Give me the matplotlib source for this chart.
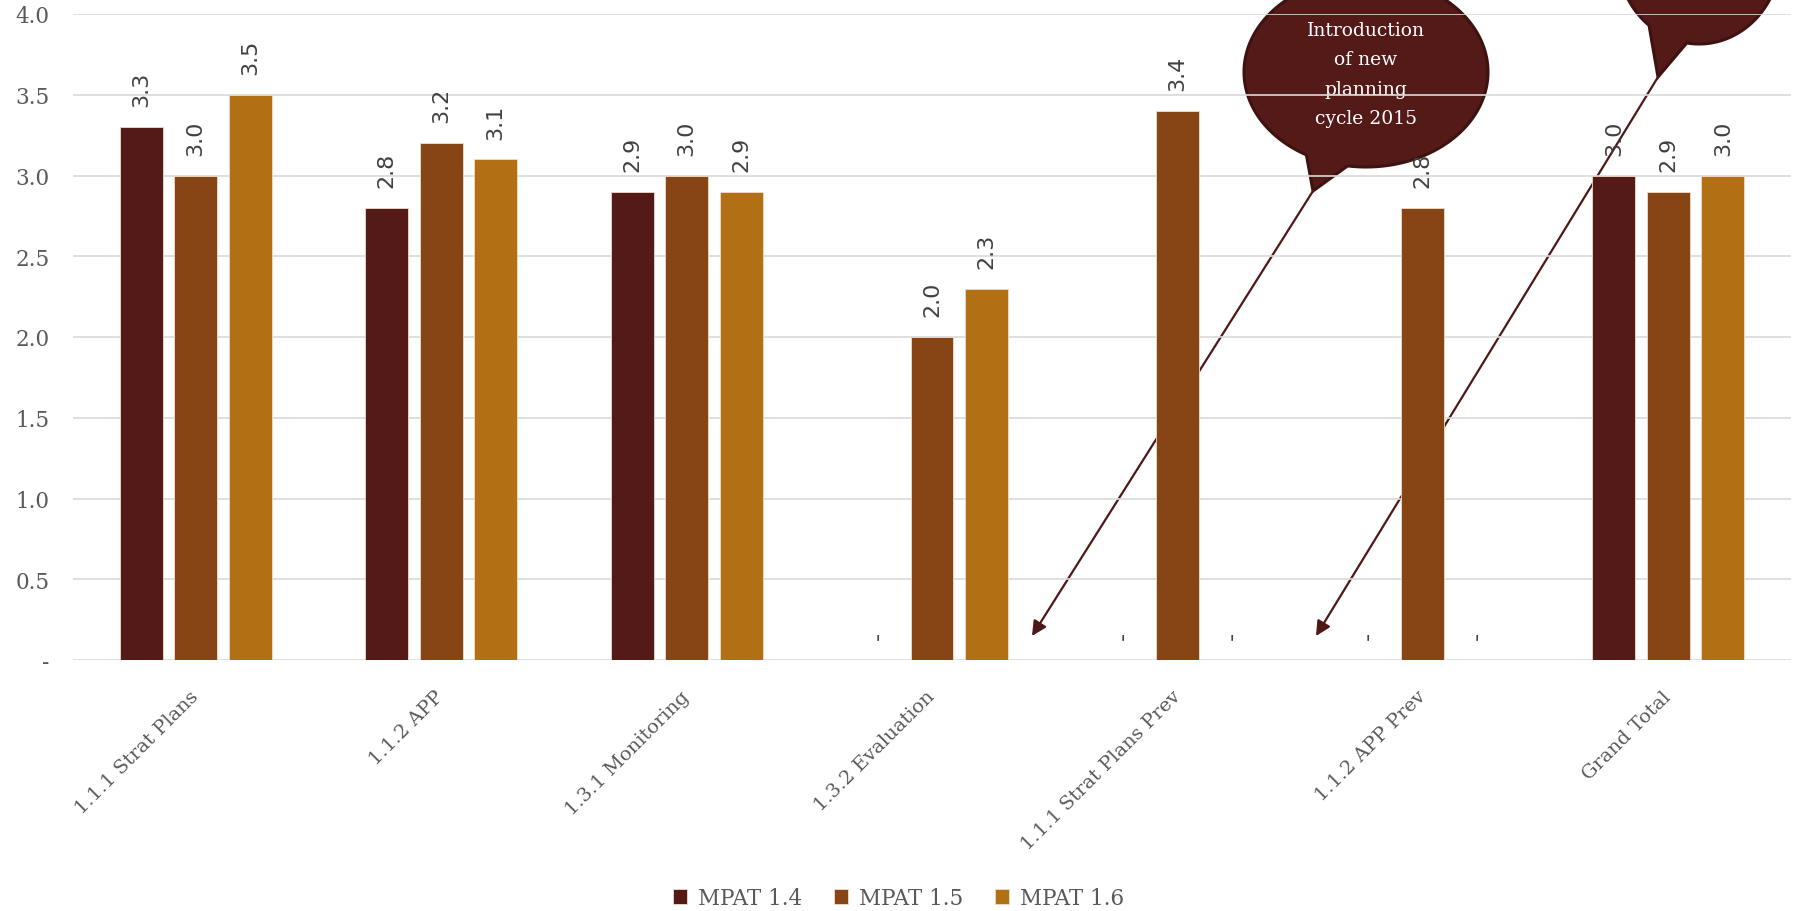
import numpy as np
import matplotlib
matplotlib.use("Agg")
import matplotlib.pyplot as plt
from matplotlib.patches import Polygon
from matplotlib.ticker import FuncFormatter

categories = ["1.1.1 Strat Plans", "1.1.2 APP", "1.3.1 Monitoring", "1.3.2 Evaluation",
              "1.1.1 Strat Plans Prev", "1.1.2 APP Prev", "Grand Total"]
series_names = ["MPAT 1.4", "MPAT 1.5", "MPAT 1.6"]
mpat_14 = [3.3, 2.8, 2.9, 0.0, 0.0, 0.0, 3.0]
mpat_15 = [3.0, 3.2, 3.0, 2.0, 3.4, 2.8, 2.9]
mpat_16 = [3.5, 3.1, 2.9, 2.3, 0.0, 0.0, 3.0]
callout_text = "Introduction\nof new\nplanning\ncycle 2015"

colors = ["#531A18", "#874415", "#B27014"]
grid_col = "#D9D9D9"
text_col = "#595959"
serif = "DejaVu Serif"

W, H = 1797, 912
fig = plt.figure(figsize=(W / 100, H / 100), dpi=100)
ax_l, ax_r, ax_t, ax_b = 73, 1791, 15, 661
ax = fig.add_axes([ax_l / W, 1 - ax_b / H, (ax_r - ax_l) / W, (ax_b - ax_t) / H])


def px(x, y):
    # pixel position (from top-left) -> axes fraction
    return ((x - ax_l) / (ax_r - ax_l), (ax_b - y) / (ax_b - ax_t))


x = np.arange(len(categories))
offsets = [-0.222, 0.0, 0.222]
width = 0.175
for vals, name, col, off in zip([mpat_14, mpat_15, mpat_16], series_names, colors, offsets):
    ax.bar(x + off, vals, width, color=col, label=name, zorder=2,
           edgecolor="#F0DCCB", linewidth=0.6)
    for xi, v in zip(x + off, vals):
        lab = "%.1f" % v if v > 0 else "-"
        ax.annotate(lab, (xi, v), xytext=(0, 15), textcoords="offset points",
                    rotation=90, ha="center", va="bottom", fontsize=16,
                    color="#404040", family="DejaVu Sans", zorder=3)

ax.set_xlim(-0.5, len(categories) - 0.5)
ax.set_ylim(0, 4.0)
ax.set_yticks(np.arange(0, 4.01, 0.5))
ax.yaxis.set_major_formatter(FuncFormatter(lambda v, p: "-" if v == 0 else "%.1f" % v))
ax.set_xticks(x)
ax.set_xticklabels(categories, rotation=45, ha="right", va="center", rotation_mode="anchor")
ax.tick_params(axis="x", length=0, pad=24, labelsize=14, labelcolor=text_col)
ax.tick_params(axis="y", length=0, pad=17, labelsize=15.5, labelcolor=text_col)
for lab in ax.get_xticklabels() + ax.get_yticklabels():
    lab.set_family(serif)
for s in ax.spines.values():
    s.set_visible(False)
ax.set_axisbelow(True)
ax.grid(axis="y", color=grid_col, linewidth=1.2)


def callout(cx, cy, a, b, left, tip, right, text=None):
    # speech bubble: ellipse with a pointed tail, in pixel units
    t_r = np.arctan2((right[1] - cy) / b, (right[0] - cx) / a)
    t_l = np.arctan2((left[1] - cy) / b, (left[0] - cx) / a)
    if t_l > t_r:
        t_l -= 2 * np.pi
    ts = np.linspace(t_r, t_l, 200)
    pts = [px(cx + a * np.cos(t), cy + b * np.sin(t)) for t in ts]
    pts.append(px(*tip))
    ax.add_patch(Polygon(pts, closed=True, transform=ax.transAxes, clip_on=False,
                         facecolor="#531A18", edgecolor="#3E1210", linewidth=2.2,
                         zorder=0.2))
    if text:
        ax.text(*px(cx, cy + 2), text, transform=ax.transAxes, ha="center", va="center",
                color="white", fontsize=13.5, family=serif, linespacing=1.8, zorder=0.3)


callout(1366, 73, 122, 95, (1307, 155), (1313, 192), (1348, 165), callout_text)
callout(1699, -45, 82, 90, (1650, 25), (1658, 78), (1687, 42))

for start, end in [((1313, 192), (1032, 637)), ((1658, 78), (1316, 637))]:
    ax.annotate("", xy=px(*end), xycoords="axes fraction",
                xytext=px(*start), textcoords="axes fraction",
                arrowprops=dict(arrowstyle="-|>", color="#4E1816", lw=1.6,
                                mutation_scale=22, shrinkA=0, shrinkB=0),
                annotation_clip=False, zorder=0.25)

leg = fig.legend(loc="center", bbox_to_anchor=(0.5, 1 - 899 / H), ncol=3, frameon=False,
                 handlelength=0.65, handleheight=0.65, handletextpad=0.5,
                 columnspacing=1.5, prop={"family": serif, "size": 15.5})
for t in leg.get_texts():
    t.set_color(text_col)

fig.savefig("out.png", dpi=100)
